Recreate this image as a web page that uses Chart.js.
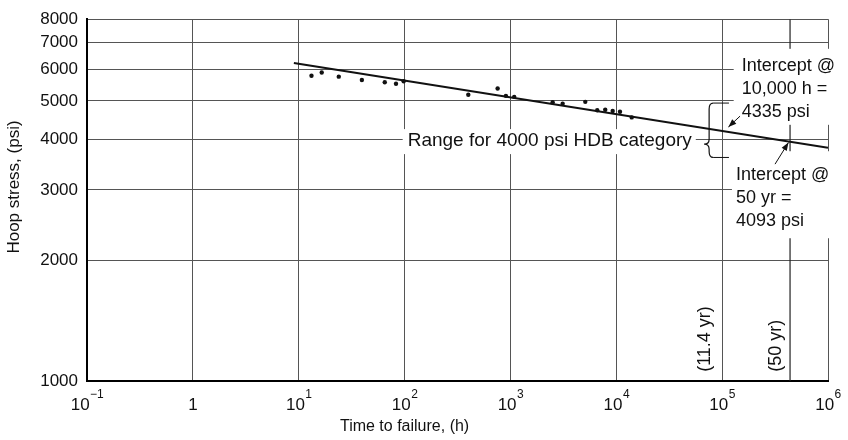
<!DOCTYPE html>
<html>
<head>
<meta charset="utf-8">
<script src="https://cdn.jsdelivr.net/npm/chart.js@4.4.1/dist/chart.umd.min.js"></script>
<style>
  body { margin: 0; background: #fff; }
  #wrap { width: 848px; height: 440px; }
</style>
</head>
<body>
<div id="wrap"><canvas id="chart" width="848" height="440"></canvas></div>
<script>
// test points: time to failure (h) and hoop stress (psi)
const hours = [13.2, 16.5, 23.9, 39.5, 65, 83, 98, 400, 757, 906, 1086, 2506, 3114, 5095, 6607, 7865, 9245, 10840, 13990];
const stress = [5780, 5890, 5750, 5640, 5570, 5520, 5600, 5180, 5370, 5150, 5120, 4965, 4920, 4975, 4740, 4755, 4720, 4700, 4550];

// regression line drawn through the points
const fitHours = [9, 1000000];
const fitStress = [6220, 3820];

// 50 yr marker (438,000 h)
const fiftyHours = [438000, 438000];
const fiftyStress = [1000, 8000];

const xTicks = [0.1, 1, 10, 100, 1000, 10000, 100000, 1000000];
const xExp = ['\u22121', '', '1', '2', '3', '4', '5', '6'];
const yTicks = [1000, 2000, 3000, 4000, 5000, 6000, 7000, 8000];

const FONT = '"Liberation Sans", Arial, Helvetica, sans-serif';
const INK = '#111';

function arrow(ctx, x1, y1, x2, y2) {
  ctx.beginPath();
  ctx.moveTo(x1, y1);
  ctx.lineTo(x2, y2);
  ctx.stroke();
  const a = Math.atan2(y2 - y1, x2 - x1);
  ctx.beginPath();
  ctx.moveTo(x2, y2);
  ctx.lineTo(x2 - 8 * Math.cos(a) + 3 * Math.sin(a), y2 - 8 * Math.sin(a) - 3 * Math.cos(a));
  ctx.lineTo(x2 - 8 * Math.cos(a) - 3 * Math.sin(a), y2 - 8 * Math.sin(a) + 3 * Math.cos(a));
  ctx.closePath();
  ctx.fill();
}

// text, brace and arrows on top of the plot
const notes = {
  id: 'notes',
  afterDatasetsDraw(chart) {
    const { ctx, scales: { x, y } } = chart;
    const px = v => x.getPixelForValue(v);
    const py = v => y.getPixelForValue(v);
    ctx.save();
    ctx.fillStyle = INK;
    ctx.strokeStyle = INK;
    ctx.textBaseline = 'middle';
    ctx.textAlign = 'left';

    // range label
    ctx.font = '19px ' + FONT;
    const rx = px(107), ry = py(3970);
    const rText = 'Range for 4000 psi HDB category';
    const rw = ctx.measureText(rText).width;
    ctx.fillStyle = '#fff';
    ctx.fillRect(rx - 5, ry - 12, rw + 9, 25);

    // intercept blocks
    const b1x = px(153000), b1y = py(6120);
    const b2x = px(135000), b2y = py(3263);
    ctx.fillRect(b1x - 8, b1y - 17, 200, 46 + 30);
    ctx.fillRect(b2x - 4, b2y - 24, 200, 46 + 41);

    ctx.fillStyle = INK;
    ctx.fillText(rText, rx, ry);
    ctx.font = '18px ' + FONT;
    ['Intercept @', '10,000 h =', '4335 psi'].forEach((t, i) => ctx.fillText(t, b1x, b1y + i * 23));
    ['Intercept @', '50 yr =', '4093 psi'].forEach((t, i) => ctx.fillText(t, b2x, b2y + i * 23));

    // brace for the HDB range
    const bx = px(77000), ty = py(4940), by = py(3614), my = py(3900);
    ctx.lineWidth = 1.2;
    ctx.beginPath();
    ctx.moveTo(bx + 3, ty);
    ctx.quadraticCurveTo(bx - 1, ty, bx - 1, ty + 6);
    ctx.lineTo(bx - 1, my - 5);
    ctx.quadraticCurveTo(bx - 1, my, bx - 6, my);
    ctx.quadraticCurveTo(bx - 1, my, bx - 1, my + 5);
    ctx.lineTo(bx - 1, by - 6);
    ctx.quadraticCurveTo(bx - 1, by, bx + 3, by);
    ctx.stroke();
    ctx.lineWidth = 1;
    ctx.beginPath();
    ctx.moveTo(bx + 3, ty); ctx.lineTo(px(116000), ty);
    ctx.moveTo(bx + 3, by); ctx.lineTo(px(116000), by);
    ctx.stroke();

    // arrows to the intercepts
    ctx.lineWidth = 1;
    arrow(ctx, px(147600), py(4583), px(114600), py(4305));
    arrow(ctx, px(316000), py(3478), px(423000), py(3936));

    // rotated time labels
    [['(11.4 yr)', 68900], ['(50 yr)', 321000]].forEach(([t, h]) => {
      ctx.save();
      ctx.translate(px(h), py(1054));
      ctx.rotate(-Math.PI / 2);
      ctx.textAlign = 'left';
      ctx.fillText(t, 0, 0);
      ctx.restore();
    });
    ctx.restore();
  },
  afterDraw(chart) {
    const { ctx, chartArea, scales: { x, y } } = chart;
    ctx.save();
    ctx.fillStyle = INK;
    // x tick labels as powers of ten
    xTicks.forEach((v, i) => {
      const cx = x.getPixelForValue(v);
      const base = xExp[i] === '' ? '1' : '10';
      ctx.font = '17px ' + FONT;
      const bw = ctx.measureText(base).width;
      ctx.font = '12px ' + FONT;
      const ew = xExp[i] ? ctx.measureText(xExp[i]).width : 0;
      const left = cx - (bw + ew) / 2;
      ctx.textAlign = 'left';
      ctx.textBaseline = 'alphabetic';
      ctx.font = '17px ' + FONT;
      ctx.fillText(base, left, chartArea.bottom + 29);
      if (xExp[i]) {
        ctx.font = '12px ' + FONT;
        ctx.fillText(xExp[i], left + bw + 0.5, chartArea.bottom + 17);
      }
    });
    // axis titles
    ctx.font = '16px ' + FONT;
    ctx.textAlign = 'center';
    ctx.textBaseline = 'middle';
    ctx.fillText('Time to failure, (h)', x.getPixelForValue(100), chartArea.bottom + 46);
    ctx.save();
    ctx.translate(14, y.getPixelForValue(3050));
    ctx.rotate(-Math.PI / 2);
    ctx.font = '17px ' + FONT;
    ctx.fillText('Hoop stress, (psi)', 0, 0);
    ctx.restore();
    ctx.restore();
  }
};

new Chart(document.getElementById('chart'), {
  type: 'scatter',
  data: {
    datasets: [{
      data: hours.map((h, i) => ({ x: h, y: stress[i] })),
      backgroundColor: INK,
      borderColor: INK,
      pointRadius: 2.2,
      pointBorderWidth: 0,
      showLine: false
    }, {
      data: fitHours.map((h, i) => ({ x: h, y: fitStress[i] })),
      borderColor: INK,
      borderWidth: 2,
      pointRadius: 0,
      showLine: true
    }, {
      data: fiftyHours.map((h, i) => ({ x: h, y: fiftyStress[i] })),
      borderColor: '#222',
      borderWidth: 1.2,
      pointRadius: 0,
      showLine: true
    }]
  },
  options: {
    responsive: false,
    animation: false,
    events: [],
    layout: { padding: { top: 15, right: 20, left: 0, bottom: 0 } },
    plugins: { legend: { display: false }, tooltip: { enabled: false } },
    scales: {
      x: {
        type: 'logarithmic',
        min: 0.1,
        max: 1000000,
        afterBuildTicks: s => { s.ticks = xTicks.map(v => ({ value: v })); },
        afterFit: s => { s.height = 59; },
        ticks: { display: false },
        grid: { color: '#555', lineWidth: 1, drawTicks: false },
        border: { color: '#000', width: 2 }
      },
      y: {
        type: 'logarithmic',
        min: 1000,
        max: 8000,
        afterBuildTicks: s => { s.ticks = yTicks.map(v => ({ value: v })); },
        afterFit: s => { s.width = 87; },
        ticks: {
          color: INK,
          padding: 9,
          font: { family: FONT, size: 17 },
          callback: v => String(v)
        },
        grid: { color: '#555', lineWidth: 1, drawTicks: false },
        border: { color: '#000', width: 2 }
      }
    }
  },
  plugins: [notes]
});
</script>
</body>
</html>
